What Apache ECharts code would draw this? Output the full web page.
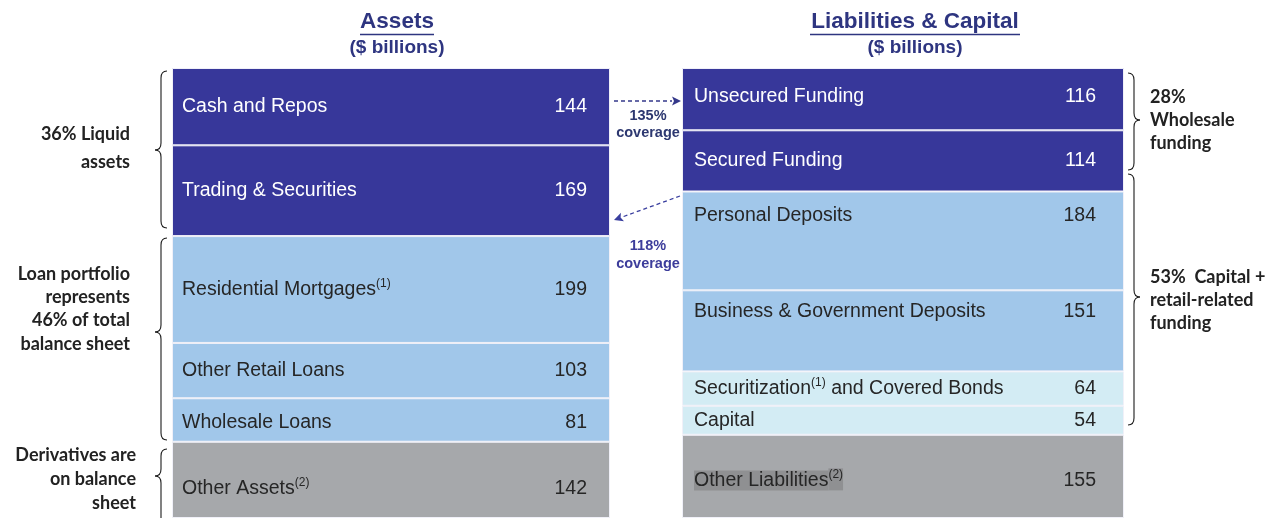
<!DOCTYPE html>
<html>
<head>
<meta charset="utf-8">
<script src="https://cdn.jsdelivr.net/npm/echarts@6/dist/echarts.min.js"></script>
<style>
  html, body { margin: 0; padding: 0; background: #fff; }
  #main { width: 1267px; height: 518px; }
</style>
</head>
<body>
<div id="main"></div>
<script>
// data
const assetNames = ['Cash and Repos', 'Trading & Securities', 'Residential Mortgages(1)', 'Other Retail Loans', 'Wholesale Loans', 'Other Assets(2)'];
const assetValues = [144, 169, 199, 103, 81, 142];
const assetGroups = ['liquid', 'liquid', 'loan', 'loan', 'loan', 'other'];

const liabNames = ['Unsecured Funding', 'Secured Funding', 'Personal Deposits', 'Business & Government Deposits', 'Securitization(1) and Covered Bonds', 'Capital', 'Other Liabilities(2)'];
const liabValues = [116, 114, 184, 151, 64, 54, 155];
const liabGroups = ['liquid', 'liquid', 'loan', 'loan', 'market', 'market', 'other'];

const total = 838;

// styles
const groupColor = { liquid: '#37379a', loan: '#a1c7ea', market: '#d3ecf4', other: '#a6a8ab' };
const groupText = { liquid: '#ffffff', loan: '#262626', market: '#262626', other: '#262626' };
const FONT = "'Liberation Sans', Arial, sans-serif";
const NOTE_FONT = "Lato, 'Open Sans', sans-serif";
const NAVY = '#2e3580';

function richName(name, value, hl) {
    let n = hl ? 'nh' : 'n', s = hl ? 'sh' : 's';
    let txt = '{' + n + '|' + name.replace(/\((\d)\)/g, '}{' + s + '|($1)}{' + n + '|') + '}';
    txt = txt.replace('{' + n + '|}', '');
    return txt + '{v|' + value + '}';
}

function makeSeries(names, values, groups, idx, labelWidth, dist) {
    return names.map((nm, i) => {
        let color = groupText[groups[i]];
        let hl = nm.indexOf('Other Liabilities') === 0;
        let label = {
            show: true,
            position: 'insideLeft',
            distance: dist,
            width: labelWidth,
            lineHeight: 24,
            formatter: richName(nm, values[i], hl),
            rich: {
                n: { fontFamily: FONT, fontSize: 19.5, lineHeight: 24, color: color },
                s: { fontFamily: FONT, fontSize: 12, lineHeight: 14, verticalAlign: 'top', color: color },
                nh: { fontFamily: FONT, fontSize: 19.5, lineHeight: 24, color: color, backgroundColor: '#8f9092' },
                sh: { fontFamily: FONT, fontSize: 12, lineHeight: 14, padding: [0, 0, 10, 0], verticalAlign: 'top', color: color, backgroundColor: '#8f9092' },
                v: { fontFamily: FONT, fontSize: 19.5, lineHeight: 24, align: 'right', color: color }
            }
        };
        // deposits labels sit near the top of their boxes, bottom boxes run past the frame
        if (nm === 'Personal Deposits') label.position = [dist, 12];
        if (nm === 'Business & Government Deposits') label.position = [dist, 9];
        if (nm === 'Other Assets(2)') label.offset = [0, 9];
        if (nm === 'Other Liabilities(2)') label.offset = [0, 4];
        if (nm === 'Wholesale Loans') label.offset = [0, 3];
        if (nm === 'Unsecured Funding') label.offset = [0, -3];
        return {
            name: nm,
            type: 'bar',
            xAxisIndex: idx,
            yAxisIndex: idx,
            stack: 'side' + idx,
            barWidth: '100%',
            silent: true,
            itemStyle: { color: groupColor[groups[i]], borderColor: '#f0f0f8', borderWidth: 1 },
            label: label,
            data: [values[i]]
        };
    });
}

function brace(x, y1, y2, tip, dir) {
    // dir -1: tip points left, 1: tip points right
    let r = 7, xe = x - 6 * dir, xt = x + 6 * dir;
    let st = { stroke: '#1a1a1a', lineWidth: 1.1, fill: null };
    let q = (ax, ay, cx, cy, bx, by) => ({ type: 'bezierCurve', shape: { x1: ax, y1: ay, cpx1: cx, cpy1: cy, x2: bx, y2: by }, style: st });
    let l = (ay, by) => ({ type: 'line', shape: { x1: x, y1: ay, x2: x, y2: by }, style: st });
    return [
        q(xe, y1, x, y1, x, y1 + r), l(y1 + r, tip - r), q(x, tip - r, x, tip, xt, tip),
        q(xt, tip, x, tip, x, tip + r), l(tip + r, y2 - r), q(x, y2 - r, x, y2, xe, y2)
    ];
}

function dashedArrow(x1, y1, x2, y2, color) {
    let ang = Math.atan2(y2 - y1, x2 - x1), len = 9, w = 4.5;
    let bx = x2 - len * Math.cos(ang), by = y2 - len * Math.sin(ang);
    let px = -Math.sin(ang) * w, py = Math.cos(ang) * w;
    return [
        { type: 'line', shape: { x1: x1, y1: y1, x2: bx, y2: by }, style: { stroke: color, lineWidth: 1.3, lineDash: [4, 3] } },
        { type: 'polygon', shape: { points: [[x2, y2], [bx + px, by + py], [bx + 2 * Math.cos(ang), by + 2 * Math.sin(ang)], [bx - px, by - py]] }, style: { fill: color } }
    ];
}

function noteText(lines, x, y0, step, align) {
    return lines.map((t, i) => ({
        type: 'text',
        style: { text: t, x: x, y: y0 + i * step, align: align, verticalAlign: 'middle', fontFamily: NOTE_FONT, fontWeight: 'bold', fontSize: 18, fill: '#222' }
    }));
}

function title(t, x, y, size, underline) {
    let out = [{ type: 'text', style: { text: t, x: x, y: y, align: 'center', verticalAlign: 'middle', fontFamily: FONT, fontWeight: 'bold', fontSize: size, fill: NAVY } }];
    if (underline) out.push({ type: 'line', shape: { x1: x - underline / 2, y1: y + 12.5, x2: x + underline / 2, y2: y + 12.5 }, style: { stroke: NAVY, lineWidth: 1.6 } });
    return out;
}

let chart = echarts.init(document.getElementById('main'));

let graphics = [].concat(
    title('Assets', 397, 22, 22.5, 74),
    title('($ billions)', 397, 47.5, 19),
    title('Liabilities & Capital', 915, 22, 22.5, 210),
    title('($ billions)', 915, 47.5, 19),
    noteText(['36% Liquid', 'assets'], 130, 134, 28, 'right'),
    noteText(['Loan portfolio', 'represents', '46% of total', 'balance sheet'], 130, 274, 23.3, 'right'),
    noteText(['Derivatives are', 'on balance', 'sheet'], 136, 455, 24, 'right'),
    noteText(['28%', 'Wholesale', 'funding'], 1150, 97, 23, 'left'),
    noteText(['53%  Capital +', 'retail-related', 'funding'], 1150, 277, 23, 'left'),
    brace(161, 71, 228, 150, -1), brace(161, 238, 440, 332, -1), brace(161, 449, 530, 476, -1),
    brace(1134, 73, 170, 120, 1), brace(1134, 174, 425, 297, 1),
    dashedArrow(614, 101, 681, 101, '#34388a'),
    dashedArrow(680, 196, 614, 220, '#3a3f9f'),
    [
        { type: 'text', style: { text: '135%\ncoverage', x: 648, y: 124, align: 'center', verticalAlign: 'middle', fontFamily: FONT, fontWeight: 'bold', fontSize: 14.5, lineHeight: 17, fill: '#2d3870' } },
        { type: 'text', style: { text: '118%\ncoverage', x: 648, y: 255, align: 'center', verticalAlign: 'middle', fontFamily: FONT, fontWeight: 'bold', fontSize: 14.5, lineHeight: 18, fill: '#3d3d9b' } }
    ]
);

let option = {
    animation: false,
    grid: [
        { left: 172, width: 438, top: 68, height: 452 },
        { left: 682, width: 442, top: 68, height: 452 }
    ],
    xAxis: [
        { type: 'category', gridIndex: 0, data: ['Assets'], show: false },
        { type: 'category', gridIndex: 1, data: ['Liabilities & Capital'], show: false }
    ],
    yAxis: [
        { type: 'value', gridIndex: 0, min: 0, max: total, inverse: true, show: false },
        { type: 'value', gridIndex: 1, min: 0, max: total, inverse: true, show: false }
    ],
    series: [].concat(
        makeSeries(assetNames, assetValues, assetGroups, 0, 405, 10),
        makeSeries(liabNames, liabValues, liabGroups, 1, 402, 12)
    ),
    graphic: graphics
};
chart.setOption(option);
</script>
</body>
</html>
